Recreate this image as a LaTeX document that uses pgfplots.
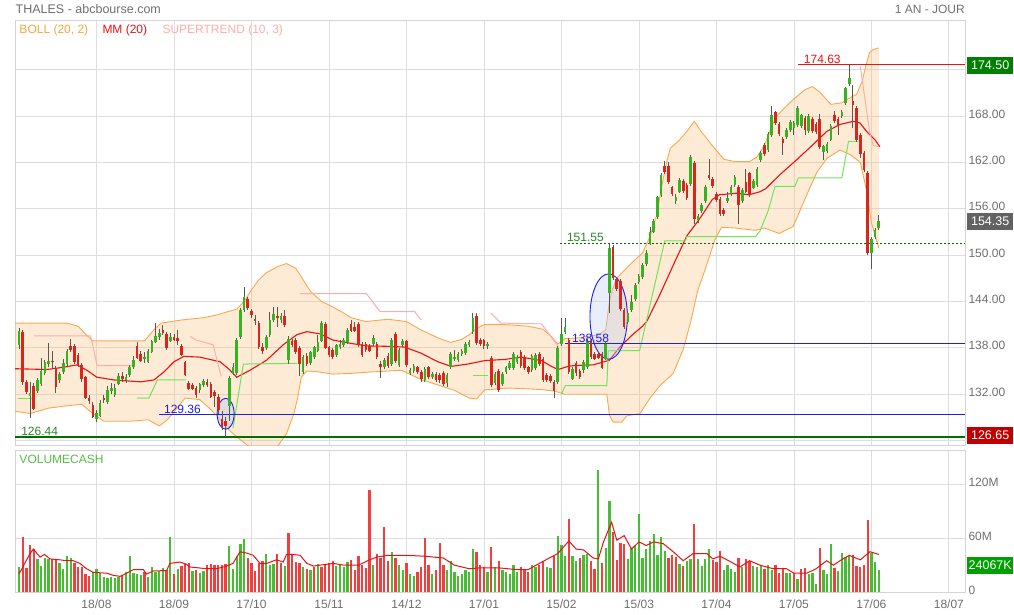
\documentclass[border=0pt]{standalone}
\usepackage{fontspec}
\setmainfont{Liberation Sans}
\usepackage{pgfplots}
\usepackage{pgfplotstable}
\pgfplotsset{compat=1.18}
\usepgfplotslibrary{fillbetween}

\definecolor{gridgray}{RGB}{222,222,222}
\definecolor{framegray}{RGB}{212,212,212}
\definecolor{labelgray}{RGB}{110,110,110}
\definecolor{candlegreen}{RGB}{52,180,32}
\definecolor{candlered}{RGB}{220,36,26}
\definecolor{wick}{RGB}{92,86,80}
\definecolor{bollline}{RGB}{247,168,78}
\definecolor{bollfill}{RGB}{248,188,118}
\definecolor{mmred}{RGB}{232,18,18}
\definecolor{stpink}{RGB}{255,172,172}
\definecolor{stgreen}{RGB}{112,228,92}
\definecolor{volgreen}{RGB}{72,188,52}
\definecolor{volred}{RGB}{242,62,62}
\definecolor{lvlgreen}{RGB}{0,112,0}
\definecolor{lvlblue}{RGB}{30,30,235}
\definecolor{ellfill}{RGB}{190,205,240}
\definecolor{boxgreen}{RGB}{0,128,0}
\definecolor{boxgray}{RGB}{98,98,98}
\definecolor{boxred}{RGB}{192,0,0}
\definecolor{boxvol}{RGB}{0,160,0}
\definecolor{txtgreen}{RGB}{40,135,40}
\definecolor{txtorange}{RGB}{250,165,60}
\definecolor{voltxt}{RGB}{85,190,65}

% daily candles, x = trading day index
\pgfplotstableread{
i o h l c
0 138.4 140.6 137.9 140.1
1 140.0 140.3 133.2 133.6
2 133.5 133.9 132.0 132.3
3 131.8 133.6 128.9 132.1
4 133.0 133.4 130.0 130.2
5 132.5 134.1 132.2 133.8
6 133.4 136.7 133.0 135.0
7 134.8 136.4 134.5 136.1
8 136.0 138.6 135.5 136.3
9 136.3 137.6 135.3 136.2
10 135.2 135.6 132.2 133.0
11 133.9 134.9 133.5 134.5
12 134.9 136.6 134.6 136.0
13 136.0 137.9 135.7 137.5
14 138.2 139.1 137.4 137.8
15 138.2 138.5 135.9 136.2
16 137.0 137.3 135.5 135.8
17 135.7 136.0 133.6 134.0
18 134.2 134.4 131.4 131.6
19 131.5 131.9 130.8 131.2
20 130.6 131.0 128.9 129.1
21 128.9 130.0 128.4 129.5
22 129.3 131.2 129.0 130.8
23 131.5 131.9 130.9 131.3
24 131.0 133.0 130.8 132.5
25 132.5 133.4 132.0 132.7
26 132.0 133.3 131.7 132.8
27 133.4 134.8 133.2 134.3
28 134.3 134.9 133.6 134.0
29 133.9 134.6 133.5 134.2
30 134.5 135.8 134.2 135.4
31 135.6 136.9 135.3 136.4
32 138.2 138.8 136.5 136.7
33 137.1 137.6 136.2 136.4
34 136.6 137.5 136.0 136.7
35 136.2 137.8 136.0 137.5
36 137.5 139.0 137.3 138.8
37 138.8 141.2 138.6 139.5
38 139.45 140.4 139.0 139.9
39 140.2 141.0 139.7 140.0
40 139.7 140.0 137.7 138.0
41 139.0 139.9 138.8 139.4
42 139.3 139.8 138.9 139.1
43 139.2 140.3 138.4 139.0
44 138.2 138.5 136.9 137.1
45 136.05 136.3 134.3 134.5
46 133.4 133.7 132.6 132.8
47 133.1 133.5 132.5 132.7
48 132.8 133.1 131.5 131.9
49 132.55 133.5 132.2 133.2
50 133.3 134.0 133.0 133.6
51 133.5 134.0 133.0 133.3
52 133.3 133.6 131.5 131.7
53 132.2 132.5 130.4 131.8
54 131.6 132.0 129.5 130.0
55 128.7 129.8 127.4 128.0
56 128.5 129.0 126.44 127.9
57 130.6 134.3 128.5 134.0
58 134.75 136.0 134.5 135.4
59 134.75 139.3 134.5 139.0
60 139.45 143.2 139.2 142.9
61 142.9 145.9 142.6 144.5
62 144.3 144.6 142.9 143.2
63 142.7 143.0 141.9 142.3
64 141.7 142.2 141.0 141.6
65 141.2 141.5 137.9 138.2
66 138.1 138.6 137.2 137.6
67 138.0 139.7 137.7 139.4
68 139.7 142.6 139.4 141.6
69 141.7 143.3 141.4 142.3
70 142.1 143.3 140.75 142.0
71 141.7 142.5 141.2 142.0
72 142.0 142.9 140.7 141.0
73 136.5 139.5 135.9 139.1
74 138.8 139.2 138.1 138.4
75 139.0 139.3 137.2 137.5
76 137.9 138.2 134.3 136.0
77 134.9 137.1 134.6 136.8
78 136.9 137.3 135.7 136.0
79 136.1 137.6 135.8 137.4
80 136.9 138.3 136.6 138.1
81 137.7 139.6 137.4 138.7
82 139.0 141.5 138.7 141.2
83 141.0 141.3 137.8 138.0
84 138.0 138.3 136.8 137.1
85 137.7 138.0 136.6 136.9
86 137.1 138.5 136.8 138.25
87 138.2 139.0 137.9 138.4
88 138.4 139.3 138.1 139.0
89 138.8 140.6 138.5 140.3
90 141.0 141.6 140.0 140.3
91 140.6 141.3 140.0 140.3
92 141.0 141.3 138.1 138.4
93 138.4 138.7 136.8 137.1
94 138.5 138.8 137.5 137.8
95 138.2 138.5 137.4 137.7
96 138.6 139.6 138.3 139.15
97 138.4 138.7 136.6 136.9
98 135.8 136.3 134.05 135.6
99 135.6 136.7 135.3 136.4
100 136.9 137.3 135.4 135.7
101 136.0 139.3 135.7 139.0
102 139.7 140.0 136.1 136.4
103 135.8 138.0 135.5 137.7
104 138.4 139.1 138.1 138.8
105 138.8 139.0 135.5 135.8
106 134.8 135.4 134.5 135.1
107 135.1 135.9 134.8 135.6
108 135.4 135.7 134.6 134.9
109 134.8 135.1 133.6 134.06
110 133.9 135.5 133.6 135.2
111 135.4 135.7 134.0 134.3
112 134.3 134.9 134.0 134.6
113 134.6 134.9 133.6 133.9
114 134.4 134.7 133.5 133.85
115 134.7 135.0 133.1 133.4
116 133.5 134.7 132.9 134.4
117 135.6 137.5 135.3 137.2
118 136.7 137.7 136.3 136.8
119 136.5 137.5 136.2 137.2
120 137.2 137.8 136.9 137.5
121 137.4 138.8 137.1 138.5
122 138.4 139.0 138.1 138.7
123 140.1 142.5 139.8 141.8
124 142.05 142.5 138.4 138.7
125 139.0 139.3 138.3 138.6
126 138.9 139.2 137.9 138.25
127 138.3 138.7 137.9 138.4
128 136.65 137.0 132.9 133.2
129 133.5 134.9 133.2 134.6
130 134.9 135.2 132.3 132.6
131 133.4 134.9 133.1 134.6
132 134.9 135.7 134.6 135.4
133 135.4 136.3 135.1 136.0
134 135.4 137.5 135.1 137.2
135 136.2 137.1 135.9 136.8
136 137.4 137.7 135.4 135.7
137 136.8 137.1 135.1 135.4
138 135.4 135.7 134.6 134.9
139 135.2 137.2 134.9 136.9
140 135.4 137.3 135.1 137.0
141 137.1 137.4 135.7 136.0
142 136.5 136.8 133.6 133.9
143 134.4 134.7 133.6 133.85
144 134.3 134.6 133.5 133.8
145 133.5 133.8 131.5 132.5
146 133.6 138.3 133.3 137.95
147 138.5 141.8 138.2 139.7
148 140.1 141.8 139.8 140.6
149 139.0 139.3 134.6 134.9
150 134.06 135.5 133.8 135.2
151 136.0 136.3 134.4 134.8
152 134.9 135.2 134.0 134.3
153 135.2 136.4 134.8 136.1
154 135.6 139.1 135.3 138.8
155 138.8 139.1 136.6 136.9
156 137.2 137.5 136.4 136.66
157 137.1 137.4 136.5 136.8
158 137.2 137.5 135.2 135.5
159 136.66 138.7 136.4 138.4
160 145.1 151.55 142.5 150.9
161 151.0 151.3 146.8 147.1
162 146.9 147.2 145.4 145.7
163 146.6 146.9 142.8 143.1
164 142.9 143.2 140.5 140.7
165 141.4 142.8 141.1 142.4
166 142.9 144.8 142.6 143.9
167 144.4 146.4 144.1 146.1
168 146.6 147.5 146.3 147.2
169 147.2 149.0 146.9 148.7
170 148.9 150.6 148.6 150.2
171 151.55 153.6 151.3 152.9
172 153.1 154.7 152.8 154.4
173 155.0 157.7 154.7 157.4
174 157.8 160.6 157.5 160.3
175 161.5 162.2 160.5 160.8
176 161.5 162.0 159.2 159.5
177 158.7 159.0 157.6 158.0
178 157.0 157.9 156.6 157.4
179 158.25 160.0 158.0 159.7
180 159.5 159.9 158.0 158.3
181 159.0 159.3 157.1 157.4
182 159.3 162.9 159.0 162.6
183 161.9 162.2 154.0 154.7
184 154.6 155.3 154.2 155.0
185 155.7 156.7 155.4 156.4
186 157.0 159.1 156.7 158.8
187 160.3 162.4 159.7 160.0
188 159.8 160.1 158.7 159.0
189 157.9 158.2 156.9 157.2
190 157.2 157.5 155.1 155.4
191 155.8 156.1 155.0 155.35
192 157.0 158.2 156.7 157.3
193 158.0 159.1 157.7 158.8
194 159.1 160.3 158.8 160.0
195 158.8 159.1 154.0 156.5
196 157.0 158.7 156.7 158.4
197 159.4 161.2 158.0 158.25
198 160.5 160.8 157.5 157.8
199 158.8 159.8 158.5 159.5
200 159.1 161.4 158.8 161.05
201 162.35 163.4 162.0 163.1
202 164.2 164.5 162.8 163.1
203 163.6 165.9 163.3 165.6
204 165.6 169.3 165.3 168.0
205 168.4 168.7 166.8 167.1
206 166.9 167.2 165.4 165.7
207 165.0 165.3 163.0 164.6
208 165.3 166.4 165.0 166.1
209 166.2 167.5 165.9 167.2
210 166.45 167.3 165.5 167.0
211 166.9 169.3 166.6 169.0
212 166.7 168.3 166.4 168.0
213 167.7 168.0 165.5 166.2
214 166.1 168.2 165.8 167.9
215 167.6 167.9 165.8 166.1
216 166.9 167.2 165.7 166.0
217 167.6 168.2 163.7 164.0
218 163.4 164.3 162.3 164.0
219 163.55 164.6 163.2 164.3
220 165.0 167.0 164.7 166.7
221 168.0 168.7 167.1 167.4
222 167.6 167.9 165.5 166.9
223 168.05 168.8 167.7 168.5
224 169.7 171.8 169.4 171.5
225 172.2 174.63 171.9 172.8
226 169.9 172.0 166.4 169.5
227 169.0 169.3 164.6 164.9
228 165.5 165.8 162.6 163.2
229 163.1 163.4 160.7 161.05
230 160.6 160.9 150.0 150.3
231 150.3 152.4 148.2 152.0
232 152.4 153.5 152.1 153.2
233 153.5 155.2 153.2 154.35
}\candles

% volume in millions, u = 1 for a green bar
\pgfplotstableread{
i v u
0 28 1
1 61 0
2 27 0
3 52 0
4 48 0
5 36.5 1
6 29 1
7 38 1
8 37 1
9 37 0
10 37 0
11 32 1
12 26 1
13 40 1
14 38 1
15 32 0
16 28 0
17 28 0
18 20 0
19 17.5 0
20 22 1
21 26 1
22 21 1
23 17 1
24 16 1
25 17 1
26 16 1
27 17 1
28 18.6 0
29 22 1
30 40.6 1
31 21 1
32 20 1
33 19 1
34 22 0
35 17 1
36 28 1
37 22 1
38 23 1
39 27 1
40 25 0
41 61 1
42 20 0
43 26 1
44 29 0
45 31 0
46 32 0
47 23.5 1
48 25 0
49 21.6 1
50 23.5 1
51 30.5 0
52 31 0
53 30 0
54 30 0
55 30 0
56 31 0
57 51 1
58 26 1
59 40 1
60 54 1
61 59 1
62 38 0
63 32 0
64 24 0
65 32 0
66 35 0
67 42 1
68 30 1
69 31 1
70 42 0
71 32 0
72 29 1
73 66 0
74 42 0
75 33 0
76 32 0
77 28 1
78 26 0
79 25 1
80 28 0
81 31 1
82 28 0
83 31 0
84 32 0
85 35 0
86 29 1
87 30 1
88 28 1
89 33 1
90 36 0
91 25 0
92 40 0
93 30 0
94 27 0
95 114 0
96 30 1
97 42 0
98 38 0
99 73 0
100 35 0
101 45 1
102 38 0
103 30 1
104 25 1
105 32 0
106 20 1
107 18 1
108 22 0
109 28 0
110 60 0
111 30 0
112 20 1
113 25 0
114 55 0
115 30 0
116 25 1
117 35 1
118 22 1
119 18 1
120 20 1
121 25 1
122 22 1
123 48 1
124 45 0
125 30 0
126 28 0
127 22 1
128 50 0
129 28 1
130 35 0
131 25 1
132 22 1
133 20 1
134 30 1
135 22 1
136 28 0
137 25 0
138 22 0
139 30 1
140 28 1
141 30 0
142 33 0
143 28 1
144 27 1
145 40 0
146 63 1
147 52 1
148 40 1
149 82 0
150 40 1
151 35 1
152 38 0
153 41 1
154 42 1
155 35 0
156 26 0
157 136 1
158 32 0
159 49 1
160 102 1
161 67 0
162 36 0
163 55 0
164 54 0
165 37 1
166 49 1
167 51 1
168 87 1
169 38 1
170 48 1
171 57 1
172 65 1
173 41 1
174 61 1
175 46 1
176 38 0
177 41 0
178 39 0
179 31 1
180 29 0
181 35 1
182 37 1
183 76 0
184 37 1
185 29 1
186 37 1
187 48 1
188 36 0
189 33 0
190 46 0
191 25 1
192 30 1
193 26 1
194 22 1
195 38 0
196 28 1
197 37 0
198 35 0
199 29 1
200 28 1
201 29 1
202 26 0
203 30 1
204 25 1
205 30 0
206 21 0
207 27 0
208 21 1
209 21 1
210 21 0
211 15 1
212 26 0
213 27 0
214 20 1
215 21 1
216 9 1
217 49 0
218 25 1
219 20 1
220 54 1
221 27 0
222 23 1
223 44 1
224 39 1
225 40 1
226 41 0
227 29 0
228 28 0
229 30 0
230 81 0
231 44 1
232 34 1
233 24.067 1
}\volumes

\pgfplotstableread{
i v
0 20
3 43
3.9 48
5.7 39
6.9 42
8.4 37
11 36
12.9 35
14.7 35
16.5 32
18.3 26
20.1 22
23.8 21
25.6 18.6
27.4 17.5
29.2 21
31 25
33.7 25
34.6 20
36.4 23.5
40 24
40.9 32
43.6 33.5
45.4 31
46.3 28
50.9 26
53.6 26
56.3 29
58 32
59.9 45
61.7 43.5
63.5 41
65.3 32
67.1 32
69.8 36
71.6 33.5
72.5 42
74.3 42
76.2 41
78 32
79.8 29
83.4 31
85.2 32
88 30
92 30
95 36
97 39
100 41
105 41
110 40
115 38
118 30
122 26
125 27
130 27
135 25
138 25
141 32
146 43
149 57
151 48
153 47
155.6 38
157 37
158.4 56
160.6 78
162 58
164 63
166 48
168 56
170 52
172 56
174.6 54
177.3 45
180 35
182.7 43
186.4 43
188 37
190 40
193 33.5
195.4 28
198 35
200.8 30
204.4 26
208 26
210 21
213.5 21
216 26
218.9 35
220.7 30
222.5 35
225 41
228 36
230.6 45
233 42
}\volma

\pgfplotstableread{
i p
-1.084 141.2
5 141.2
13 141.2
16 140.8
18 139.8
20 138.9
26 138.9
34 138.9
36.5 140.3
38.5 141.2
44 141.6
50 141.9
54 142.3
56 142.6
59 143.0
61 144.0
63 145.5
65 146.8
67 147.7
70 148.5
72.5 148.9
75 148.3
77 146.8
79 145.3
82 144.0
85 143.3
88 142.5
90 141.9
94 141.4
100 141.7
105 141.4
109 140.3
114 139.2
117 138.7
120 139.1
122 139.7
124 140.5
126 141.0
132 141.0
138 140.8
142 140.4
144 139.6
146 138.5
148 139.2
152 139.3
157 139.7
159 140.3
160 144.0
161 145.8
162 147.0
165 148.5
169 150.3
171 152.4
173 155.5
174 158.5
175.5 162.0
176.5 163.8
179 164.9
181 166.0
183 167.3
185 165.9
188 164.1
191 162.4
194 162.1
198 162.1
200 162.7
202 164.2
205 167.8
208 169.3
210 170.2
213 171.4
215 171.8
217 171.1
220 169.5
223 169.7
225 170.3
227 170.8
228.5 172.5
229.5 174.5
230.5 176.2
231.5 176.6
233 176.8
}\bollup

\pgfplotstableread{
i p
-1.084 129.8
3 129.5
8 130.2
13 130.5
17 130.7
20 129.5
23 128.5
30 128.5
35 128.7
38 127.9
40 128.6
42 129.7
45 131.5
49 131.3
52 130.0
54 129.0
56 127.8
58 126.9
60 126.1
63 125.0
67 124.7
70 125.2
72.5 126.9
74.5 129.5
75.5 131.5
76.5 134.2
78 135.0
81 134.9
85 134.6
90 134.7
96 134.9
100 135.0
103.6 135.1
105.4 134.7
109 133.9
113.5 133.2
118 132.5
122 131.5
124 131.4
126.2 132.55
132.5 132.8
137.9 132.7
141.6 132.6
145.2 132.4
147.9 132.0
153 132.0
159.3 132.0
160 129.3
161 128.4
163.3 128.4
164.7 129.2
168.3 129.5
171 131.5
173.7 133.1
177.3 134.7
180 137.8
182 141.3
184 145.5
186 148.2
188.6 152.0
190.4 153.6
194 153.5
199.5 153.2
202 153.5
206 152.8
209.8 153.7
213.5 157.8
216.2 160.7
218.9 162.5
222.5 163.6
225.2 163.0
228 162.0
229.7 158.3
231 154.2
233 150.9
}\bolllo

\pgfplotstableread{
i p
-1.084 135.3
7.6 135.2
12.2 135.5
15.7 135.8
18.4 135.1
21.1 134.2
25.7 133.85
33 133.6
36.6 133.85
39.3 134.9
42 136.2
44.7 136.9
49 136.8
54.5 136.2
57 135.2
59 134.2
62.6 135.1
67.1 136.4
71.6 138.4
75.3 139.7
78 140.1
81.6 139.8
85.1 139.0
89.7 138.6
94.2 138.25
99.6 138.2
104.5 138.1
109 137.3
113.5 136.2
117.1 135.6
121.6 135.9
126.2 136.35
131.6 136.5
136.1 136.8
141.6 136.35
144.3 135.6
146.1 135.2
148.8 135.6
150.2 135.7
155.6 135.8
160 136.4
163 138.2
166.5 139.8
169 140.8
170.1 141.4
173.6 144.8
177.5 148.9
181 152.5
183.7 154.2
185.3 155.3
187.9 157.2
189.8 157.8
194.3 158.0
197.9 157.8
200.8 158.2
202.4 158.6
206.2 160.4
210.8 162.35
215.2 164.3
218.9 166.0
222.5 166.9
226.1 167.3
227.9 167.1
229.7 166.0
232 164.9
233.3 164.0
}\mm

\pgfplotsset{
  chartpanel/.style={
    scale only axis, width=950pt,
    xmin=-1.084, xmax=256.37,
    axis line style={draw=framegray},
    xtick={21,42,...,252},
    xmajorgrids, ymajorgrids,
    grid style={draw=gridgray, line width=0.8pt},
    major tick length=0pt,
    tick style={draw=none},
    yticklabel pos=right,
    ticklabel style={text=labelgray, font=\fontsize{12}{14}\selectfont},
    yticklabel style={yshift=2pt},
  },
  body/.style={draw=none, mark=none, forget plot,
    error bars/.cd, y dir=both, y explicit, error mark=none,
    error bar style={draw=#1, line width=2.6pt}},
}

\begin{document}
\begin{tikzpicture}[font=\fontsize{12}{14}\selectfont]

% price panel
\begin{axis}[chartpanel, at={(15pt,-20pt)}, anchor=north west, height=425pt,
  ymin=125.43, ymax=180.41,
  ytick={126,132,...,174},
  yticklabels={,132.00,138.00,144.00,150.00,156.00,162.00,168.00,},
  xticklabel=\empty]

\addplot[draw=none, name path=bbup, forget plot] table[x=i, y=p] {\bollup};
\addplot[draw=none, name path=bblo, forget plot] table[x=i, y=p] {\bolllo};
\addplot[fill=bollfill, fill opacity=0.3, draw=none] fill between[of=bbup and bblo];
\addplot[bollline, line width=0.9pt] table[x=i, y=p] {\bollup};
\addplot[bollline, line width=0.9pt] table[x=i, y=p] {\bolllo};
\addplot[mmred, line width=1.1pt] table[x=i, y=p] {\mm};

% supertrend
\addplot[stgreen, line width=1pt] coordinates {(-0.3,131.5) (3.5,131.5)};
\addplot[stgreen, line width=1pt] coordinates {(32,131.5) (35.2,131.5) (37.5,133.85) (45.2,133.85)};
\addplot[stgreen, line width=1pt] coordinates {(58,127.6) (60.8,135.9) (75.3,136.0)};
\addplot[stgreen, line width=1pt] coordinates {(123,134.4) (127,134.4)};
\addplot[stgreen, line width=1pt] coordinates {(147,132.0) (148,133.1) (159.3,133.1) (159.7,137.65) (168.2,137.65) (175,151.85) (180.6,151.85) (181,152.4) (199.6,152.4) (200.8,153.1) (203,155.7) (204.9,158.9) (210.3,158.9) (211.2,160.0) (223,160.0) (224.8,164.7) (227.5,164.7)};
\addplot[stpink, line width=1pt] coordinates {(4,139.55) (19.4,139.55) (21.2,135.7) (31,135.7)};
\addplot[stpink, line width=1pt] coordinates {(46.3,139.5) (48,139.0) (52.6,138.4) (54.8,134.3)};
\addplot[stpink, line width=1pt] coordinates {(76.2,145.0) (94.2,145.0) (97.8,142.7) (107.2,142.7) (109,141.6)};
\addplot[stpink, line width=1pt] coordinates {(127.9,142.5) (130.6,141.2) (141.6,141.1) (146.1,138.2)};
\addplot[stpink, line width=1pt] coordinates {(228,174.4) (230.5,166) (231.5,164.2) (233,164.0)};

% circled zones
\draw[draw=lvlblue, line width=0.9pt, fill=ellfill, fill opacity=0.45]
  (axis cs:56.0,129.47) ellipse [x radius=8.5pt, y radius=15.5pt];
\draw[draw=lvlblue, line width=0.9pt, fill=ellfill, fill opacity=0.35]
  (axis cs:159.8,142.05) ellipse [x radius=18.7pt, y radius=42.7pt];

% price levels
\addplot[lvlgreen, line width=2.4pt] coordinates {(-1.084,126.44) (256.37,126.44)};
\addplot[lvlblue, line width=0.9pt] coordinates {(38,129.36) (256.37,129.36)};
\addplot[lvlblue, line width=0.9pt] coordinates {(148,138.58) (256.37,138.58)};
\addplot[lvlgreen, line width=0.9pt, dash pattern=on 2pt off 2pt] coordinates {(146.6,151.55) (256.37,151.55)};
\addplot[mmred, line width=0.9pt] coordinates {(211.1,174.63) (256.37,174.63)};

% candles: wicks, then bodies
\addplot[draw=none, mark=none, forget plot,
  error bars/.cd, y dir=both, y explicit, error mark=none,
  error bar style={draw=wick, line width=0.9pt}]
  table[x=i, y expr={(\thisrow{h}+\thisrow{l})/2},
    y error expr={(\thisrow{h}-\thisrow{l})/2}] {\candles};
\addplot[body=candlegreen]
  table[x=i, y expr={\thisrow{c}>=\thisrow{o} ? (\thisrow{o}+\thisrow{c})/2 : 100},
    y error expr={abs(\thisrow{c}-\thisrow{o})/2+0.06}] {\candles};
\addplot[body=candlered]
  table[x=i, y expr={\thisrow{c}<\thisrow{o} ? (\thisrow{o}+\thisrow{c})/2 : 100},
    y error expr={abs(\thisrow{c}-\thisrow{o})/2+0.06}] {\candles};

\node[anchor=south west, inner sep=1pt, text=mmred] at (axis cs:212.4,174.63) {174.63};
\node[anchor=south west, inner sep=1pt, text=txtgreen] at (axis cs:148.2,151.55) {151.55};
\node[anchor=south west, inner sep=1pt, text=lvlblue] at (axis cs:149.6,138.58) {138.58};
\node[anchor=south west, inner sep=1pt, text=lvlblue] at (axis cs:39,129.36) {129.36};
\node[anchor=south west, inner sep=1pt, text=txtgreen] at (axis cs:0.3,126.44) {126.44};

\coordinate (b1) at (axis cs:256.37,174.5);
\coordinate (b2) at (axis cs:256.37,154.35);
\coordinate (b3) at (axis cs:256.37,126.65);
\end{axis}

% volume panel
\begin{axis}[chartpanel, at={(15pt,-450pt)}, anchor=north west, height=142pt,
  ymin=0, ymax=158.7,
  ytick={0,60,120}, yticklabels={0,60M,120M},
  xticklabels={18/08,18/09,17/10,15/11,14/12,17/01,15/02,15/03,17/04,17/05,17/06,18/07},
  xticklabel style={yshift=-4pt}]
\addplot[ycomb, mark=none, draw=volgreen, line width=2.3pt]
  table[x=i, y expr={\thisrow{u}==1 ? \thisrow{v} : 0}] {\volumes};
\addplot[ycomb, mark=none, draw=volred, line width=2.3pt]
  table[x=i, y expr={\thisrow{u}==0 ? \thisrow{v} : 0}] {\volumes};
\addplot[mmred, line width=1pt, mark=none] table[x=i, y=v] {\volma};
\coordinate (b4) at (axis cs:256.37,24.067);
\end{axis}

% value boxes on the right
\begin{scope}[every node/.style={anchor=west, inner sep=0pt, text=white,
    minimum width=46pt, minimum height=17pt, xshift=2pt,
    font=\fontsize{12.5}{14}\selectfont}]
\node[fill=boxgreen] at (b1) {174.50};
\node[fill=boxgray] at (b2) {154.35};
\node[fill=boxred] at (b3) {126.65};
\node[fill=boxvol, yshift=5pt] at (b4) {24067K};
\end{scope}

% titles and indicator names
\node[anchor=base west, inner sep=0pt, text=labelgray, font=\fontsize{12.5}{14}\selectfont]
  at (15.5pt,-13.3pt) {THALES - abcbourse.com};
\node[anchor=base east, inner sep=0pt, text=labelgray] at (965pt,-13.3pt) {1 AN - JOUR};
\node[anchor=base west, inner sep=0pt, text=txtorange] at (19.3pt,-33.3pt) {BOLL (20, 2)};
\node[anchor=base west, inner sep=0pt, text=mmred] at (102.3pt,-33.3pt) {MM (20)};
\node[anchor=base west, inner sep=0pt, text=stpink] at (162.3pt,-33.3pt) {SUPERTREND (10, 3)};
\node[anchor=base west, inner sep=0pt, text=voltxt] at (19.3pt,-463.3pt) {VOLUMECASH};

\pgfresetboundingbox
\path (0,0) rectangle (1014pt,-614pt);
\end{tikzpicture}
\end{document}
